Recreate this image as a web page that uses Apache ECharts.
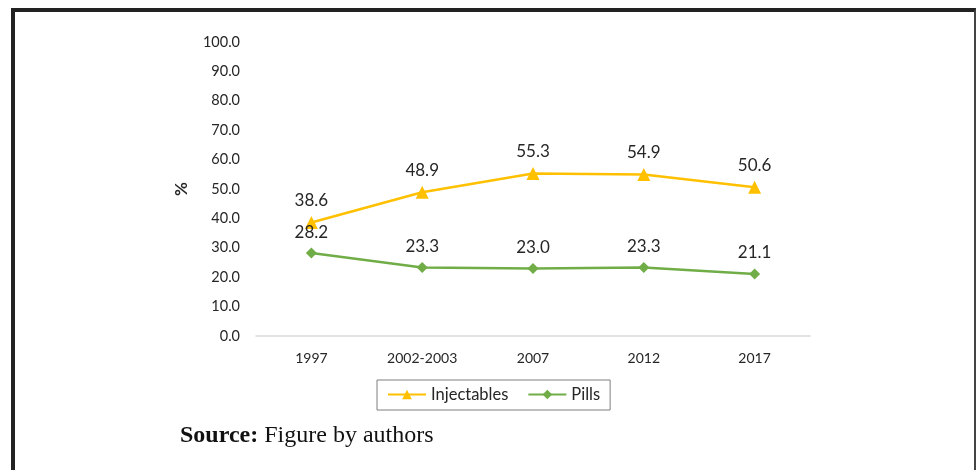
<!DOCTYPE html>
<html>
<head>
<meta charset="utf-8">
<script src="https://cdn.jsdelivr.net/npm/echarts@6/dist/echarts.min.js"></script>
<style>
  html, body { margin: 0; padding: 0; background: #fff; }
  #wrap { position: relative; width: 976px; height: 470px; }
  #main { width: 976px; height: 470px; }
  #frame {
    position: absolute; left: 11px; top: 8px; right: 0; bottom: -10px;
    border-top: 4px solid #222; border-left: 4px solid #222; border-right: 2px solid #444;
    pointer-events: none;
  }
  #source {
    position: absolute; left: 180px; top: 421px;
    font-family: "Liberation Serif", "Times New Roman", serif; font-size: 24px; color: #111;
  }
</style>
</head>
<body>
<div id="wrap">
  <div id="main"></div>
  <div id="frame"></div>
  <div id="source"><b>Source:</b> Figure by authors</div>
</div>
<script>
  var years = ['1997', '2002-2003', '2007', '2012', '2017'];
  var injectables = [38.6, 48.9, 55.3, 54.9, 50.6];
  var pills = [28.2, 23.3, 23.0, 23.3, 21.1];

  var font = 'Lato, "Open Sans", sans-serif';
  var myChart = echarts.init(document.getElementById('main'));
  myChart.setOption({
    animation: false,
    textStyle: { fontFamily: font },
    grid: { left: 256, right: 166, top: 42, bottom: 134 },
    legend: {
      left: 377, top: 380,
      padding: [6, 10, 7, 10],
      itemWidth: 38, itemHeight: 12, itemGap: 19,
      borderColor: '#7f7f7f', borderWidth: 1,
      textStyle: { fontFamily: font, fontSize: 16.5, color: '#262626' },
      data: ['Injectables', 'Pills']
    },
    xAxis: {
      type: 'category',
      boundaryGap: true,
      data: years,
      axisLine: { lineStyle: { color: '#d9d9d9', width: 1.5 } },
      axisTick: { show: false },
      axisLabel: { color: '#262626', fontSize: 14, margin: 15, fontFamily: font }
    },
    yAxis: {
      type: 'value',
      min: 0, max: 100, interval: 10,
      name: '%',
      nameLocation: 'middle',
      nameGap: 66,
      nameRotate: 90,
      nameTextStyle: { color: '#262626', fontSize: 17, fontWeight: 'bold', fontFamily: font },
      splitLine: { show: false },
      axisLine: { show: false },
      axisTick: { show: false },
      axisLabel: {
        color: '#262626', fontSize: 14.5, margin: 16, fontFamily: font,
        formatter: function (v) { return v.toFixed(1); }
      }
    },
    series: [
      {
        name: 'Injectables',
        type: 'line',
        data: injectables,
        symbol: 'triangle',
        symbolSize: 13,
        itemStyle: { color: '#ffc000' },
        lineStyle: { color: '#ffc000', width: 2.5 },
        label: {
          show: true, position: 'top', distance: 7,
          color: '#262626', fontSize: 17, fontFamily: font,
          formatter: function (p) { return p.value.toFixed(1); }
        }
      },
      {
        name: 'Pills',
        type: 'line',
        data: pills,
        symbol: 'diamond',
        symbolSize: 11,
        itemStyle: { color: '#70ad47' },
        lineStyle: { color: '#70ad47', width: 2.5 },
        label: {
          show: true, position: 'top', distance: 7,
          color: '#262626', fontSize: 17, fontFamily: font,
          formatter: function (p) { return p.value.toFixed(1); }
        }
      }
    ]
  });
</script>
</body>
</html>
